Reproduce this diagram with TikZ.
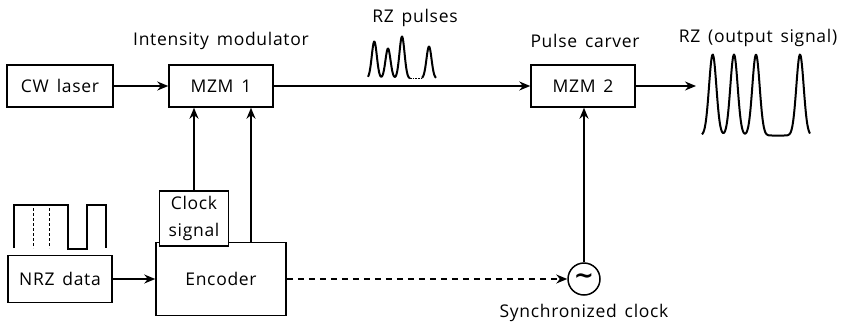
\documentclass[tikz,border=0pt]{standalone}
\usepackage{fontspec}
\setmainfont{Open Sans}[LetterSpace=4,WordSpace=1.5]
\newfontfamily\symfont{DejaVu Sans}
\usetikzlibrary{arrows.meta}
\tikzset{
  box/.style={draw,line width=1.5pt,fill=white,inner sep=0pt,align=center,font=\fontsize{17.5}{27}\selectfont},
  lbl/.style={inner sep=0pt,font=\fontsize{17.5}{20}\selectfont},
  conn/.style={line width=1.5pt,-{Stealth[length=11pt,width=9pt]}},
  wave/.style={line width=2pt,line join=round},
  thin dots/.style={line width=1pt,dash pattern=on 2.5pt off 2.5pt}
}
\pgfmathdeclarefunction{gs}{2}{\pgfmathparse{exp(-((#1)/#2)^2)}}
\begin{document}
\begin{tikzpicture}[x=1pt,y=-1pt]
\useasboundingbox (0,0) rectangle (844,325);
% waveforms
\draw[wave] plot[smooth,samples=70,domain=368:410,variable=\t] (\t,{78.5-37*gs(\t-374.3,3.6)-30*gs(\t-388,3.6)-42*gs(\t-402,3.6)});
\draw[line width=1pt,dash pattern=on 1.5pt off 1.2pt] (410,78.5) -- (422,78.5);
\draw[wave] plot[smooth,samples=30,domain=422:436,variable=\t] (\t,{78.5-32*gs(\t-429,3.6)});
\draw[wave] plot[smooth,samples=160,domain=702:810,variable=\t] (\t,{135.5-81*gs(\t-712.7,5.2)-81*gs(\t-734,5.2)-81*gs(\t-756,5.2)-81*gs(\t-800,5.2)});
\draw[wave,line join=miter] (14,248) -- (14,205) -- (68,205) -- (68,249) -- (87,249) -- (87,205) -- (106,205) -- (106,248);
\draw[thin dots] (33,208) -- (33,248);
\draw[thin dots] (49,208) -- (49,248);
% nodes
\node[box,minimum width=106pt,minimum height=42pt] (cw) at (60,86) {CW laser};
\node[box,minimum width=104pt,minimum height=42pt] (m1) at (221,86) {MZM 1};
\node[box,minimum width=104pt,minimum height=42pt] (m2) at (583,86) {MZM 2};
\node[box,minimum width=104pt,minimum height=47pt] (nrz) at (60,279) {NRZ data};
\node[box,minimum width=130pt,minimum height=73pt] (enc) at (221,279) {Encoder};
\node[box,minimum width=69pt,minimum height=55pt] (clk) at (194,218.5) {Clock\\signal};
\node[draw,circle,line width=1.5pt,minimum size=32pt,inner sep=0pt] (osc) at (584,279) {};
\node[inner sep=0pt,font=\symfont\bfseries\fontsize{24}{24}\selectfont] (tilde) at (osc.center) {∼};
\node[lbl] (l1) at (221,41) {Intensity modulator};
\node[lbl] (l2) at (415,18) {RZ pulses};
\node[lbl] (l3) at (585,41) {Pulse carver};
\node[lbl] (l4) at (758,38) {RZ (output signal)};
\node[lbl] (l5) at (584,313) {Synchronized clock};
\coordinate (out) at (696,86);
\coordinate (e1) at (251,242);
% connectors
\draw[conn] (cw) -- (m1);
\draw[conn] (m1) -- (m2);
\draw[conn] (m2) -- (out);
\draw[conn] (nrz) -- (enc);
\draw[conn] (clk) -- (m1.south -| clk);
\draw[conn] (e1) -- (e1 |- m1.south);
\draw[conn] (osc) -- (osc |- m2.south);
\draw[conn,dash pattern=on 6pt off 5pt] (enc) -- (osc);
\end{tikzpicture}
\end{document}
